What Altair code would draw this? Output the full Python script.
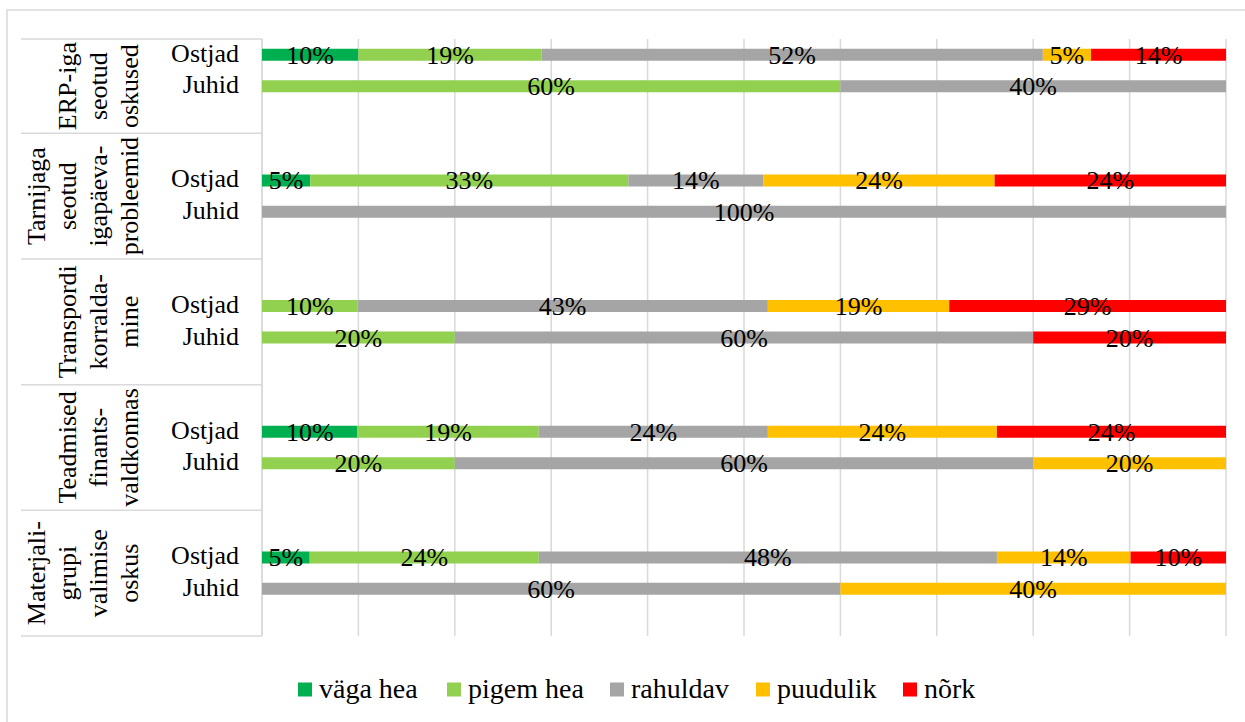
import altair as alt
import pandas as pd

# ---- data -------------------------------------------------------------
category_lines = [
    ["ERP-iga", "seotud", "oskused"],
    ["Tarnijaga", "seotud", "igapäeva-", "probleemid"],
    ["Transpordi", "korralda-", "mine"],
    ["Teadmised", "finants-", "valdkonnas"],
    ["Materjali-", "grupi", "valimise", "oskus"],
]
groups = ["Ostjad", "Juhid"]
levels = ["väga hea", "pigem hea", "rahuldav", "puudulik", "nõrk"]
level_colors = ["#00B050", "#92D050", "#A5A5A5", "#FFC000", "#FF0000"]

ostjad_values = [
    [10, 19, 52, 5, 14],
    [5, 33, 14, 24, 24],
    [0, 10, 43, 19, 29],
    [10, 19, 24, 24, 24],
    [5, 24, 48, 14, 10],
]
juhid_values = [
    [0, 60, 40, 0, 0],
    [0, 0, 100, 0, 0],
    [0, 20, 60, 0, 20],
    [0, 20, 60, 20, 0],
    [0, 0, 60, 40, 0],
]
grid_ticks = [0.0, 0.1, 0.2, 0.3, 0.4, 0.5, 0.6, 0.7, 0.8, 0.9, 1.0]

# ---- layout (pixels on the 1245 x 722 canvas) -------------------------
W, H = 1245, 722
FONT = "Liberation Serif"
GRID = "#d9d9d9"
FRAME_X, FRAME_Y = 7, 10          # outer chart frame
PLOT_X0, PLOT_X1 = 262, 1226      # bar area, horizontal range
TOP, BOTTOM = 39, 636             # bar area, vertical range
LABEL_LEFT = 21                   # left end of the category table lines
ROWLABEL_X = 239                  # right edge of "Ostjad"/"Juhid"
LAST_LINE_X = 130                 # last line of a rotated category label
LINE_GAP = 31
LEGEND_SWATCH_X = [305, 454, 617, 763, 910]   # swatch centres
LEGEND_Y = 689.5
LEGEND_SWATCH = 14
LEGEND_TEXT_GAP = 14

# rows of each category band; the first band has no leading spacer row
row_domain = []
cat_rows = []
for i in range(len(category_lines)):
    start = len(row_domain)
    if i > 0:
        row_domain.append(f"{i}-pre")
    row_domain += [f"{i}-Ostjad", f"{i}-Juhid", f"{i}-post"]
    cat_rows.append((start, len(row_domain)))
n_rows = len(row_domain)
step = (BOTTOM - TOP) / n_rows

# ---- tables -----------------------------------------------------------
records = []
for i in range(len(category_lines)):
    for g, table in zip(groups, (ostjad_values, juhid_values)):
        for k, lev in enumerate(levels):
            records.append({"row": f"{i}-{g}", "level": lev, "order": k,
                            "value": table[i][k]})
bars_df = pd.DataFrame(records)

rowlab_df = pd.DataFrame([{"row": f"{i}-{g}", "label": g}
                          for i in range(len(category_lines)) for g in groups])

catlab = []
for i, lines in enumerate(category_lines):
    s, e = cat_rows[i]
    cy = TOP + (s + e) / 2 * step
    n = len(lines)
    for k, line in enumerate(lines):
        catlab.append({"px": LAST_LINE_X - LINE_GAP * (n - 1 - k), "py": cy, "t": line})
catlab_df = pd.DataFrame(catlab)

legend_df = pd.DataFrame({"level": levels, "lx": LEGEND_SWATCH_X, "ly": LEGEND_Y})

sep_df = pd.DataFrame({"py": [TOP] + [TOP + e * step for _, e in cat_rows]})
grid_df = pd.DataFrame({"g": grid_ticks})
one_df = pd.DataFrame({"a": [0]})

# ---- scales -----------------------------------------------------------
xscale = alt.Scale(domain=[0, 1], range=[PLOT_X0, PLOT_X1])
yscale = alt.Scale(domain=row_domain, range=[TOP, BOTTOM],
                   paddingInner=0.618, paddingOuter=0.309)
cscale = alt.Scale(domain=levels, range=level_colors)

# ---- layers -----------------------------------------------------------
frame = alt.Chart(one_df).mark_rect(
    fill="#ffffff", stroke=GRID, strokeWidth=1.5
).encode(x=alt.value(FRAME_X), y=alt.value(FRAME_Y),
         x2=alt.value(W + 10), y2=alt.value(H + 10))

grid = alt.Chart(grid_df).mark_rule(color=GRID, strokeWidth=1.5).encode(
    x=alt.X("g:Q", scale=xscale, axis=None),
    y=alt.value(TOP), y2=alt.value(BOTTOM),
)

seps = alt.Chart(sep_df).mark_rule(color=GRID, strokeWidth=1.5).encode(
    y=alt.Y("py:Q", scale=None, axis=None),
    x=alt.value(LABEL_LEFT), x2=alt.value(PLOT_X0),
)

stacked = alt.Chart(bars_df).transform_stack(
    stack="value", groupby=["row"], as_=["x0", "x1"],
    offset="normalize", sort=[alt.SortField("order")],
).transform_calculate(mid="(datum.x0 + datum.x1) / 2")

bars = stacked.mark_bar().encode(
    x=alt.X("x0:Q", scale=xscale, axis=None),
    x2="x1:Q",
    y=alt.Y("row:N", scale=yscale, axis=None),
    color=alt.Color("level:N", scale=cscale, legend=None),
)

values_text = stacked.transform_filter("datum.value > 0").transform_calculate(
    lbl="datum.value + '%'"
).mark_text(font=FONT, fontSize=26, color="#000000", baseline="alphabetic", dy=9).encode(
    x=alt.X("mid:Q", scale=xscale, axis=None),
    y=alt.Y("row:N", scale=yscale, axis=None),
    text="lbl:N",
)

row_labels = alt.Chart(rowlab_df).mark_text(
    font=FONT, fontSize=26, color="#000000", align="right",
    baseline="alphabetic", dy=7,
).encode(
    y=alt.Y("row:N", scale=yscale, axis=None),
    x=alt.value(ROWLABEL_X),
    text="label:N",
)

axis_line = alt.Chart(one_df).mark_rule(color=GRID, strokeWidth=1.5).encode(
    x=alt.value(PLOT_X0), y=alt.value(TOP), y2=alt.value(BOTTOM)
)

cat_labels = alt.Chart(catlab_df).mark_text(
    font=FONT, fontSize=26, color="#000000", angle=270,
    align="center", baseline="middle",
).encode(
    x=alt.X("px:Q", scale=None, axis=None),
    y=alt.Y("py:Q", scale=None, axis=None),
    text="t:N",
)

# legend: coloured swatches with their level names
legend_swatches = alt.Chart(legend_df).mark_square(
    size=LEGEND_SWATCH ** 2, opacity=1, strokeWidth=0
).encode(
    x=alt.X("lx:Q", scale=None, axis=None),
    y=alt.Y("ly:Q", scale=None, axis=None),
    color=alt.Color("level:N", scale=cscale, legend=None),
)
legend_labels = alt.Chart(legend_df).mark_text(
    font=FONT, fontSize=28, color="#000000", align="left",
    baseline="alphabetic", dx=LEGEND_TEXT_GAP, dy=8,
).encode(
    x=alt.X("lx:Q", scale=None, axis=None),
    y=alt.Y("ly:Q", scale=None, axis=None),
    text="level:N",
)

chart = alt.layer(
    frame, grid, seps, axis_line, bars, values_text, row_labels, cat_labels,
    legend_swatches, legend_labels,
).properties(
    width=W, height=H,
    padding=0,
    autosize="none",
).configure(font=FONT).configure_view(stroke=None)

chart.save("out.html", embed_options={"renderer": "svg", "actions": False})
